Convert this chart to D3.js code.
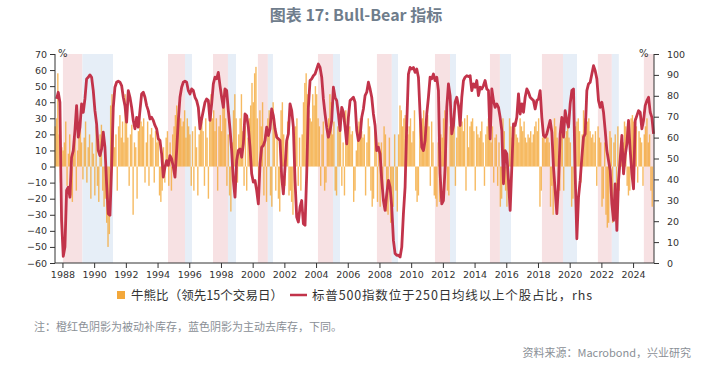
<!DOCTYPE html>
<html><head><meta charset="utf-8">
<script src="https://cdn.jsdelivr.net/npm/d3@7"></script>
<style>body{margin:0;background:#fff;}svg{display:block;}</style>
</head><body>
<svg id="chart" width="720" height="366"></svg>
<script>
// ---------- DATA ----------
const leftTicks = [70,60,50,40,30,20,10,0,-10,-20,-30,-40,-50,-60];
const rightTicks = [100,90,80,70,60,50,40,30,20,10,0];
const yearTicks = [1988,1990,1992,1994,1996,1998,2000,2002,2004,2006,2008,2010,2012,2014,2016,2018,2020,2022,2024];

// shading regimes [start, end] in decimal years
const pinkBands = [[1988.03,1989.26],[1994.66,1995.73],[1997.5,1998.44],[2000.33,2000.96],[2004.12,2005.07],[2007.84,2008.78],[2011.5,2012.45],[2014.97,2015.6],[2018.25,2019.58],[2021.78,2022.66],[2024.68,2025.32]];
const blueBands = [[1989.26,1991.19],[1995.73,1996.17],[1998.44,1998.95],[2000.96,2001.28],[2005.07,2005.51],[2008.78,2009.17],[2012.45,2012.83],[2015.6,2016.3],[2019.58,2020.46],[2022.66,2023.1]];

// Bull-Bear ratio (lead 15 trading days), monthly, from 1987-07
const barStartYear = 1987, barStartMonth = 6; // July (0-based)
const bull1987 = [25,30,58,20,-10,12];
const bull1988 = [10,15,28,-12,8,20,-18,-22,12,18,-15,10];
const bull1989 = [22,25,15,-8,18,28,-10,12,20,-20,15,8];
const bull1990 = [-18,25,-12,-22,20,26,-15,-25,-20,-35,-50,-42];
const bull1991 = [38,45,30,12,20,-15,25,32,18,28,15,45];
const bull1992 = [30,18,-12,20,26,-30,15,12,-20,22,35,28];
const bull1993 = [25,30,-10,15,28,-12,20,24,18,-10,22,15];
const bull1994 = [20,-18,-22,-15,12,-10,18,22,-12,15,-15,20];
const bull1995 = [25,32,38,28,40,30,25,28,35,18,30,25];
const bull1996 = [20,-12,22,-15,25,12,-18,20,25,28,22,-12];
const bull1997 = [30,18,-20,28,45,30,35,22,30,-15,25,32];
const bull1998 = [22,38,48,30,-12,20,-18,-28,15,35,45,30];
const bull1999 = [-10,20,30,45,22,-12,25,-15,18,30,38,52];
const bull2000 = [40,58,62,30,-20,35,25,40,-18,20,-22,30];
const bull2001 = [35,-18,-25,40,30,-15,20,-20,-28,35,40,20];
const bull2002 = [-12,15,28,-18,-15,-22,-30,20,25,30,-12,18];
const bull2003 = [-15,20,40,52,58,45,35,30,28,45,38,50];
const bull2004 = [45,30,25,-12,20,28,-15,-10,22,30,45,40];
const bull2005 = [20,28,-15,-18,25,22,30,-12,15,-18,35,20];
const bull2006 = [30,25,20,22,-22,-15,10,25,28,30,22,18];
const bull2007 = [20,-18,15,30,25,-15,-25,-20,28,20,-22,15];
const bull2008 = [-25,15,-20,25,20,-28,-30,18,-35,-30,-25,20];
const bull2009 = [-15,-28,20,38,35,25,30,32,28,20,25,30];
const bull2010 = [15,22,35,-15,-22,-18,28,15,30,35,25,30];
const bull2011 = [32,25,-12,28,15,-18,-20,-25,15,-22,20,18];
const bull2012 = [30,35,28,-15,-18,25,22,30,28,-12,18,25];
const bull2013 = [35,30,28,22,30,-15,32,12,25,28,30,22];
const bull2014 = [-15,25,20,18,22,28,15,-12,20,25,30,18];
const bull2015 = [15,25,-10,18,20,-12,15,-25,-20,30,22,-15];
const bull2016 = [-25,-15,30,25,18,15,28,20,18,15,30,25];
const bull2017 = [22,28,18,15,20,18,22,15,20,25,28,22];
const bull2018 = [30,-25,-15,18,20,15,22,18,15,-25,-12,-30];
const bull2019 = [30,25,18,-10,-15,25,20,-15,18,22,25,18];
const bull2020 = [15,-25,-20,35,25,28,30,22,-10,20,35,30];
const bull2021 = [25,28,30,22,18,20,15,22,-12,25,18,15];
const bull2022 = [-25,-20,15,-30,-38,-35,22,18,-35,15,20,-20];
const bull2023 = [25,-15,12,18,15,28,25,-12,-18,-15,30,32];
const bull2024 = [28,30,25,-10,22,18,15,-12,20,25,30,15];
const bull2025 = [20,-15,-25];

// % of S&P 500 stocks above 250-day MA (rhs), sampled every ~1.26 months from 1987.63
const breadthStart = 1987.63, breadthStep = 0.1052;
const breadthA = [78.5,81.7,76.9,20.4,3.2,7.6,34.7,36.3,31.5,50.6,53.8,63.4,75.3,60.2,65.0,76.1,72.1,78.5,88.1,88.9,90.0,88.9,82.5,72.9,66.6,53.8,51.4,54.6,62.6,55.4,37.9,23.6,22.8,45.9,74.5,84.1,86.5,87.0,86.5,84.9,79.3,75.3,67.4,82.5,79.3,74.5,68.2,64.2,69.7,65.0,72.9,80.9,81.7,79.3,75.3,72.9,68.9,69.7,68.2,65.8,64.2,59.4,58.6,52.2,41.1,45.9,49.0,46.7,51.4,49.8,45.9,41.1,53.8,68.2,79.3,84.1,86.5,87.0,86.5,82.5,80.9,83.3,82.5,79.3,77.7,74.5,64.2,68.9,72.9,76.9,78.5,77.7,68.2,76.1,85.7,88.9,88.1,91.2,84.9,79.3,74.5,83.3,82.5,72.9,64.2,53.8,39.5,31.5,49.0,53.8,54.6,50.6,57.0,71.3,70.5,65.0,55.4,42.7,38.7,39.5,34.7,28.3,47.5,55.4,56.2,58.6,65.0,61.0,64.2,73.7,70.5,64.2,60.2,59.4];
const breadthB = [58.6,41.1,33.1,45.9,58.6,61.8,76.1,72.9,65.0,39.5,22.0,19.6,26.8,29.9,18.8,18.0,42.7,74.5,87.3,88.1,89.6,90.4,92.8,95.2,93.6,88.9,78.5,71.3,65.0,60.2,63.4,68.2,84.1,79.3,77.7,71.3,63.4,74.5,72.1,65.0,57.0,69.7,77.7,78.5,79.3,76.9,63.4,58.6,60.2,69.7,73.7,80.1,81.7,86.5,83.3,79.3,71.3,65.8,53.8,55.4,52.2,39.5,29.9,25.2,33.1,39.5,36.3,26.8,10.8,4.5,3.7,3.7,2.9,7.6,23.6,36.3,66.6,90.4,93.6,92.8,93.6,91.2,92.8,88.9,71.3,55.4,53.8,58.6,71.3,79.3,88.9,88.1,90.4,87.3,88.9,82.5,42.7,28.3,29.9,45.9,74.5,85.7,80.1,61.8,65.8,76.9,79.3,75.3,65.8,79.3,87.3,88.9,89.6,89.2];
const breadthC = [89.6,82.5,85.7,84.1,87.3,80.1,84.1,83.3,84.9,87.3,83.3,82.5,59.4,83.3,77.7,74.5,76.1,74.5,69.7,63.4,37.9,53.8,52.2,39.5,25.2,45.9,66.6,65.8,69.7,80.9,71.3,76.1,72.1,79.3,83.3,81.7,79.3,78.5,77.7,73.7,77.7,78.5,82.5,69.7,61.0,60.2,61.8,65.0,68.2,62.6,45.9,34.7,23.6,37.9,61.8,69.7,60.2,72.9,68.2,65.0,76.1,82.5,83.3,42.7,11.6,31.5,39.5,50.6,60.2,61.8,82.5,85.7,86.5,90.4,94.4,92.0,88.1,77.7,74.5,76.9,72.1,63.4,53.8,49.0,44.3,28.3,20.4,37.9,15.6,39.5,49.8,61.0,42.7,51.4,57.0,68.2,53.8,42.7,35.5,68.2,70.5,72.9,72.1,64.2,68.2,75.3,77.7,79.3,72.1,69.7,61.8];

const titleText = "图表 17: Bull-Bear 指标";
const legendBarText = "牛熊比（领先15个交易日）";
const legendLineText = "标普500指数位于250日均线以上个股占比，rhs";
const noteText = "注：橙红色阴影为被动补库存，蓝色阴影为主动去库存，下同。";
const sourceText = "资料来源：Macrobond，兴业研究";

// ---------- BUILD ----------
const bullYears = [bull1987,bull1988,bull1989,bull1990,bull1991,bull1992,bull1993,bull1994,bull1995,bull1996,bull1997,bull1998,bull1999,bull2000,bull2001,bull2002,bull2003,bull2004,bull2005,bull2006,bull2007,bull2008,bull2009,bull2010,bull2011,bull2012,bull2013,bull2014,bull2015,bull2016,bull2017,bull2018,bull2019,bull2020,bull2021,bull2022,bull2023,bull2024,bull2025];
const bars = [];
bullYears.forEach((arr, yi) => {
  const yr = barStartYear + yi;
  const m0 = yi === 0 ? barStartMonth : 0;
  arr.forEach((v, i) => bars.push({t: yr + (m0 + i + 0.5) / 12, v}));
});
const breadth = breadthA.concat(breadthB, breadthC).map((v, i) => ({t: breadthStart + i * breadthStep, v}));

const svg = d3.select("#chart");
const L = 55, R = 654, T = 54, B = 263;
const x = d3.scaleLinear().domain([1987.53, 2025.32]).range([L, R]);
const yL = d3.scaleLinear().domain([-60, 70]).range([B, T]);
const yR = d3.scaleLinear().domain([0, 100]).range([B, T]);

const num = "'DejaVu Sans', Verdana, sans-serif";
const cjk = "'Noto Sans CJK SC', 'Noto Sans', sans-serif";

// title
svg.append("text").attr("x", 356).attr("y", 21).attr("text-anchor", "middle")
  .attr("font-family", cjk).attr("font-weight", "bold").attr("font-size", 16)
  .attr("fill", "#6f7d8c").text(titleText);

// bands
const gb = svg.append("g");
gb.selectAll("rect.p").data(pinkBands).join("rect")
  .attr("x", d => x(d[0])).attr("width", d => x(d[1]) - x(d[0]))
  .attr("y", T).attr("height", B - T).attr("fill", "#f7e1e3");
gb.selectAll("rect.b").data(blueBands).join("rect")
  .attr("x", d => x(d[0])).attr("width", d => x(d[1]) - x(d[0]))
  .attr("y", T).attr("height", B - T).attr("fill", "#e6eef7");

// bars
svg.append("g").selectAll("rect").data(bars).join("rect")
  .attr("x", d => x(d.t) - 0.7).attr("width", 1.4)
  .attr("y", d => yL(Math.max(0, d.v)))
  .attr("height", d => Math.abs(yL(d.v) - yL(0)))
  .attr("fill", "#f4a93a").attr("opacity", 0.8);

// line
svg.append("path").datum(breadth)
  .attr("d", d3.line().x(d => x(d.t)).y(d => yR(d.v)).curve(d3.curveLinear))
  .attr("fill", "none").attr("stroke", "#c2334a").attr("stroke-width", 2.8)
  .attr("stroke-linejoin", "round");

// axes
const axL = svg.append("g").attr("transform", `translate(${L},0)`)
  .call(d3.axisLeft(yL).tickValues(leftTicks).tickSize(5).tickPadding(3));
const axR = svg.append("g").attr("transform", `translate(${R},0)`)
  .call(d3.axisRight(yR).tickValues(rightTicks).tickSize(5).tickPadding(8));
const axB = svg.append("g").attr("transform", `translate(0,${B})`)
  .call(d3.axisBottom(x).tickValues(yearTicks).tickFormat(d3.format("d")).tickSize(5).tickPadding(3));
[axL, axR, axB].forEach(a => {
  a.select(".domain").attr("stroke", "#333");
  a.selectAll(".tick line").attr("stroke", "#333");
  a.selectAll("text").attr("font-family", num).attr("font-size", 9.5).attr("fill", "#333");
});
axL.select(".domain").attr("d", `M-0,${T}H0V${B}H-0`);
axR.select(".domain").attr("d", `M0,${T}H0V${B}H0`);
axB.select(".domain").attr("d", `M${L},0H${R}`);

svg.append("text").attr("x", 58).attr("y", 57).attr("font-family", num).attr("font-size", 10).attr("fill", "#333").text("%");
svg.append("text").attr("x", 639).attr("y", 57).attr("font-family", num).attr("font-size", 10).attr("fill", "#333").text("%");

// legend
svg.append("rect").attr("x", 117).attr("y", 291).attr("width", 8).attr("height", 8).attr("fill", "#f3a83b");
svg.append("text").attr("x", 131).attr("y", 299.5).attr("font-family", cjk).attr("font-size", 12.5)
  .attr("fill", "#333").attr("textLength", 152).attr("lengthAdjust", "spacing").text(legendBarText);
svg.append("line").attr("x1", 290).attr("x2", 307).attr("y1", 295).attr("y2", 295)
  .attr("stroke", "#c2334a").attr("stroke-width", 2.5);
svg.append("text").attr("x", 312).attr("y", 299.5).attr("font-family", cjk).attr("font-size", 12.5)
  .attr("fill", "#333").attr("textLength", 280).attr("lengthAdjust", "spacing").text(legendLineText);

// note & source
svg.append("text").attr("x", 34).attr("y", 331).attr("font-family", cjk).attr("font-size", 11)
  .attr("fill", "#8a8f96").text(noteText);
svg.append("text").attr("x", 691).attr("y", 357).attr("text-anchor", "end").attr("font-family", cjk).attr("font-size", 11)
  .attr("fill", "#8a8f96").text(sourceText);
</script>
</body></html>
